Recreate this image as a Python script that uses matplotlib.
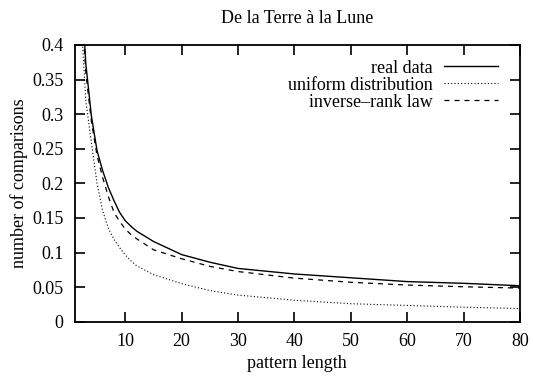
import matplotlib
matplotlib.use("Agg")
import matplotlib.pyplot as plt
from matplotlib.ticker import FormatStrFormatter

# pattern length values
lengths = [2, 3, 4, 5, 6, 7, 8, 9, 10, 11, 12, 15, 20, 25, 30, 40, 50, 60, 70, 80]
real_data = [0.52, 0.373, 0.297, 0.247, 0.218, 0.194, 0.175, 0.158, 0.146, 0.138,
             0.131, 0.116, 0.097, 0.086, 0.077, 0.069, 0.0635, 0.058, 0.0555, 0.052]
uniform = [0.46, 0.32, 0.258, 0.2, 0.16, 0.135, 0.119, 0.107, 0.0965, 0.088,
           0.081, 0.068, 0.055, 0.045, 0.0385, 0.031, 0.026, 0.0235, 0.021, 0.019]
inverse_rank = [0.50, 0.36, 0.289, 0.24, 0.208, 0.181, 0.158, 0.145, 0.134, 0.126,
                0.12, 0.104, 0.091, 0.08, 0.0725, 0.063, 0.057, 0.053, 0.0505, 0.0486]

x_ticks = [10, 20, 30, 40, 50, 60, 70, 80]
y_ticks = [0, 0.05, 0.1, 0.15, 0.2, 0.25, 0.3, 0.35, 0.4]

plt.rcParams['font.family'] = ['Liberation Serif', 'DejaVu Serif']
fs = 13

fig = plt.figure(figsize=(5.33, 3.81), dpi=100)
ax = fig.add_axes([0.1398, 0.1556, 0.8358, 0.7264])

ax.plot(lengths, real_data, color='black', lw=1.0, label='real data')
ax.plot(lengths, uniform, color='black', lw=0.8, linestyle=(0, (1, 2)),
        label='uniform distribution')
ax.plot(lengths, inverse_rank, color='black', lw=0.9, linestyle=(0, (4, 4)),
        label='inverse\u2013rank law')

ax.set_xlim(1, 80)
ax.set_ylim(0, 0.4)
ax.set_xticks(x_ticks)
ax.set_yticks(y_ticks)
ax.yaxis.set_major_formatter(FormatStrFormatter('%g'))
ax.tick_params(direction='in', length=7, width=1.2, top=True, right=True,
               labelsize=fs, pad=8)
for s in ax.spines.values():
    s.set_linewidth(1.3)

ax.set_xlabel('pattern length', fontsize=fs, labelpad=4)
ax.set_ylabel('number of comparisons', fontsize=fs, labelpad=3)
ax.set_title('De la Terre \u00e0 la Lune', fontsize=fs, pad=16)

leg = ax.legend(loc='upper right', bbox_to_anchor=((498 - 74.5) / 445.5, 0.947),
                frameon=False, markerfirst=False, alignment='right',
                handlelength=3.0, handletextpad=0.6, borderpad=0,
                borderaxespad=0, labelspacing=0.0, fontsize=fs)

plt.savefig('out.png', dpi=100)
